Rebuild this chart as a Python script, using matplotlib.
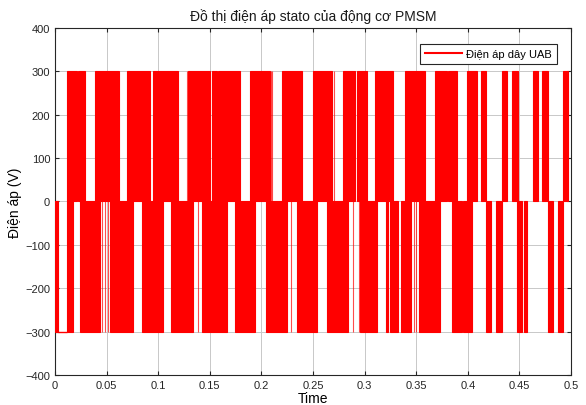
import numpy as np
import matplotlib.pyplot as plt

plt.rcParams['font.family'] = ['Liberation Sans', 'DejaVu Sans']

# switching blocks of the line voltage (seconds)
upper_start = [0.0113, 0.0223, 0.0388, 0.0695, 0.0947, 0.1292, 0.1524, 0.1582, 0.1890,
               0.2197, 0.2503, 0.2794, 0.2923, 0.3101, 0.3391, 0.3682, 0.3805, 0.3989,
               0.4128, 0.4334, 0.4431, 0.4629, 0.4716, 0.4925]
upper_end = [0.0213, 0.0291, 0.0623, 0.0921, 0.1195, 0.1502, 0.1567, 0.1793, 0.2083,
             0.2391, 0.2681, 0.2907, 0.3020, 0.3278, 0.3585, 0.3795, 0.3892, 0.4086,
             0.4173, 0.4377, 0.4483, 0.4683, 0.4774, 0.4974]
lower_start = [0.0000, 0.0113, 0.0242, 0.0533, 0.0840, 0.1124, 0.1422, 0.1744, 0.2045,
               0.2342, 0.2633, 0.2955, 0.3204, 0.3246, 0.3353, 0.3527, 0.3844, 0.3953,
               0.4173, 0.4270, 0.4474, 0.4545, 0.4780, 0.4871]
lower_end = [0.0032, 0.0177, 0.0436, 0.0759, 0.1049, 0.1340, 0.1664, 0.1938, 0.2245,
             0.2536, 0.2842, 0.3117, 0.3230, 0.3327, 0.3450, 0.3731, 0.3941, 0.4038,
             0.4225, 0.4328, 0.4528, 0.4571, 0.4828, 0.4925]
# single isolated switching pulses
upper_spikes = [0.1276, 0.1994, 0.2092, 0.2100, 0.2700]
lower_spikes = [0.0451, 0.0484, 0.0516, 0.1390, 0.1470, 0.1583, 0.2098, 0.2285, 0.2884, 0.2950, 0.3480, 0.3500]
flat_low = [(0.0032, 0.0113)]
v_dc = 300

fig = plt.figure(figsize=(5.86, 4.06), dpi=100)
ax = fig.add_axes([0.0939, 0.0739, 0.8805, 0.8547])

red = '#ff0000'
us, ue = np.array(upper_start), np.array(upper_end)
ls, le = np.array(lower_start), np.array(lower_end)
ax.bar(us, v_dc, width=ue - us, bottom=0, align='edge', color=red, edgecolor=red, linewidth=0.8, zorder=3)
ax.bar(ls, -v_dc, width=le - ls, bottom=0, align='edge', color=red, edgecolor=red, linewidth=0.8, zorder=3)
ax.vlines(upper_spikes, 0, v_dc, color=red, lw=0.8, alpha=0.7, zorder=3)
ax.vlines(lower_spikes, -v_dc, 0, color=red, lw=0.8, alpha=0.7, zorder=3)
for a, b in flat_low:
    ax.hlines(-v_dc, a, b, color=red, lw=1, zorder=3)
ax.vlines([0.0], -v_dc, 0, color=red, lw=1.5, zorder=3)

ax.set_xlim(0, 0.5)
ax.set_ylim(-400, 400)
ax.set_xticks(np.arange(0, 0.51, 0.05))
ax.set_xticklabels(['0', '0.05', '0.1', '0.15', '0.2', '0.25', '0.3', '0.35', '0.4', '0.45', '0.5'])
ax.set_yticks(np.arange(-400, 401, 100))
ax.grid(True, color='#c8c8c8', lw=0.7, zorder=0)
ax.set_axisbelow(True)
ax.tick_params(direction='in', length=3, labelsize=8, colors='#262626', top=True, right=True)
for s in ax.spines.values():
    s.set_color('#262626')
    s.set_linewidth(0.8)

ax.set_title('Đồ thị điện áp stato của động cơ PMSM', fontsize=10, color='#1a1a1a', pad=6)
ax.set_xlabel('Time', fontsize=10, labelpad=1)
ax.set_ylabel('Điện áp (V)', fontsize=10, labelpad=2)

ax.plot([], [], color=red, lw=1.5, label='Điện áp dây UAB')
leg = ax.legend(loc='upper right', bbox_to_anchor=(557 / 586, 1 - 45 / 406),
                bbox_transform=fig.transFigure, borderaxespad=0,
                fontsize=8, frameon=True, fancybox=False,
                handlelength=3.3, handletextpad=0.4, borderpad=0.45)
leg.get_frame().set_edgecolor('#262626')
leg.get_frame().set_linewidth(0.8)
leg.get_frame().set_alpha(1)

fig.savefig('out.png', dpi=100)
